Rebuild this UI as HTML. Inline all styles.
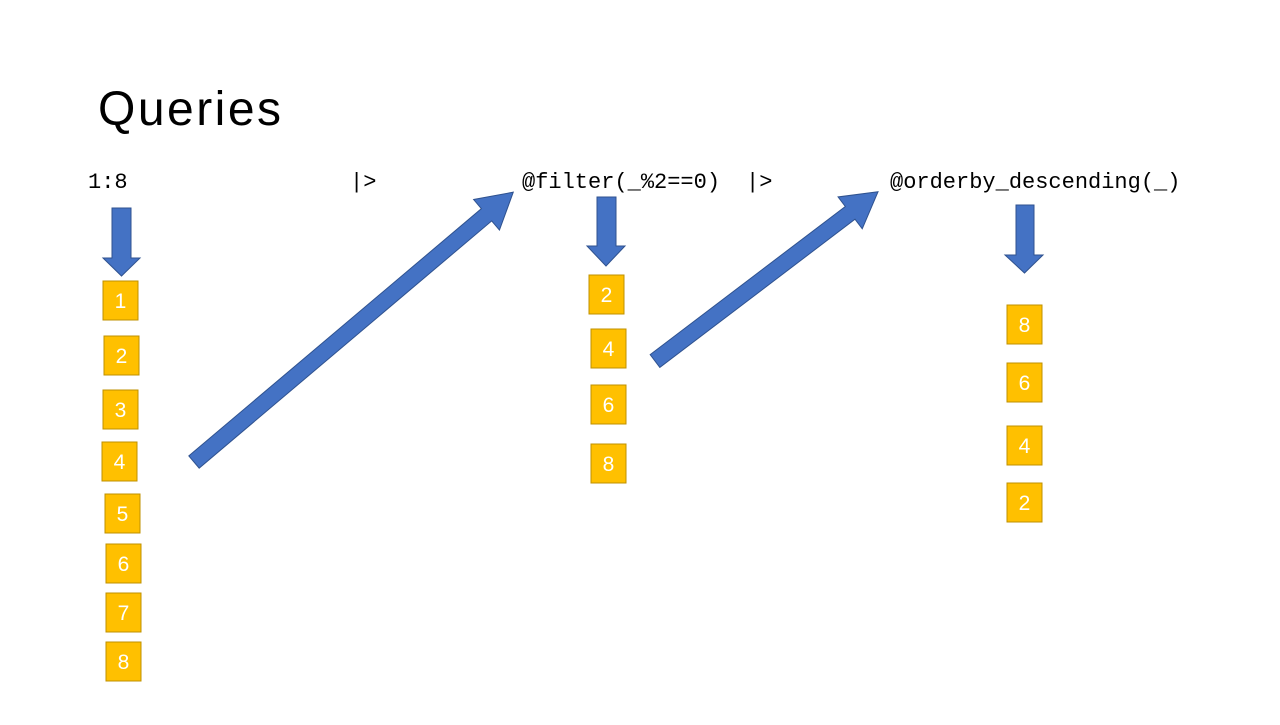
<!DOCTYPE html>
<html><head><style>html,body{margin:0;padding:0;background:#fff}</style></head>
<body>
<svg width="1280" height="720" xmlns="http://www.w3.org/2000/svg">
<rect width="1280" height="720" fill="#fff"/>
<text x="98" y="125" font-family="Liberation Sans, sans-serif" font-size="48" fill="#000" textLength="183" lengthAdjust="spacing">Queries</text>
<g font-family="Liberation Mono, monospace" font-size="22" fill="#000">
<text x="88" y="188">1:8</text>
<text x="350" y="188">|&gt;</text>
<text x="522" y="188">@filter(_%2==0)</text>
<text x="746" y="188">|&gt;</text>
<text x="890" y="188">@orderby_descending(_)</text>
</g>
<g fill="#4472C4" stroke="#2F528F" stroke-width="1">
<polygon points="112,208 131,208 131,258 140,258 121.5,276 103,258 112,258"/>
<polygon points="597,197 616,197 616,246 625,246 606,266 587,246 597,246"/>
<polygon points="1016,205 1034,205 1034,255 1043,255 1024.5,273 1005,255 1016,255"/>
<g transform="translate(194,462) rotate(-40.2)"><polygon points="0,-8 383,-8 383,-20 418,0 383,20 383,8 0,8"/></g>
<g transform="translate(655,361) rotate(-37.2)"><polygon points="0,-8 245,-8 245,-20 280,0 245,20 245,8 0,8"/></g>
</g>
<g fill="#FFC000" stroke="#BF9000" stroke-width="1">
<rect x="103" y="281" width="35" height="39"/>
<rect x="104" y="336" width="35" height="39"/>
<rect x="103" y="390" width="35" height="39"/>
<rect x="102" y="442" width="35" height="39"/>
<rect x="105" y="494" width="35" height="39"/>
<rect x="106" y="544" width="35" height="39"/>
<rect x="106" y="593" width="35" height="39"/>
<rect x="106" y="642" width="35" height="39"/>
<rect x="589" y="275" width="35" height="39"/>
<rect x="591" y="329" width="35" height="39"/>
<rect x="591" y="385" width="35" height="39"/>
<rect x="591" y="444" width="35" height="39"/>
<rect x="1007" y="305" width="35" height="39"/>
<rect x="1007" y="363" width="35" height="39"/>
<rect x="1007" y="426" width="35" height="39"/>
<rect x="1007" y="483" width="35" height="39"/>
</g>
<g font-family="Liberation Sans, sans-serif" font-size="21" fill="#fff" text-anchor="middle">
<text x="120.5" y="308">1</text>
<text x="121.5" y="363">2</text>
<text x="120.5" y="417">3</text>
<text x="119.5" y="469">4</text>
<text x="122.5" y="521">5</text>
<text x="123.5" y="571">6</text>
<text x="123.5" y="620">7</text>
<text x="123.5" y="669">8</text>
<text x="606.5" y="302">2</text>
<text x="608.5" y="356">4</text>
<text x="608.5" y="412">6</text>
<text x="608.5" y="471">8</text>
<text x="1024.5" y="332">8</text>
<text x="1024.5" y="390">6</text>
<text x="1024.5" y="453">4</text>
<text x="1024.5" y="510">2</text>
</g>
</svg>
</body></html>
